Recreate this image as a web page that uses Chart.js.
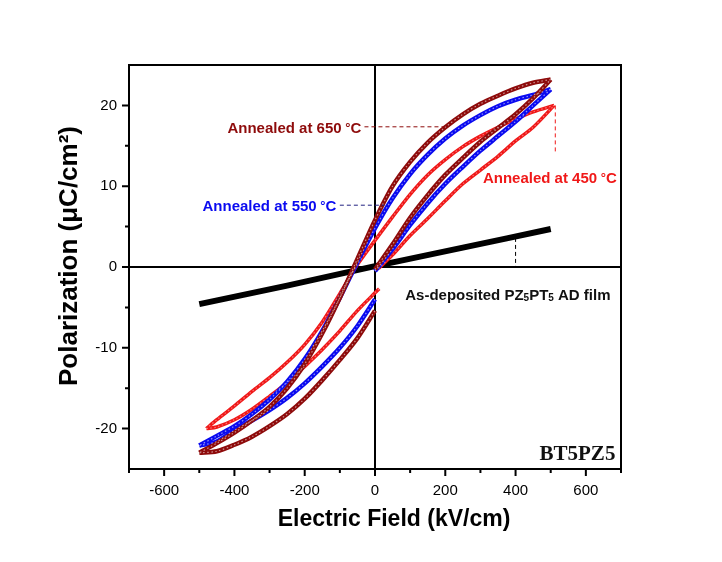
<!DOCTYPE html>
<html>
<head>
<meta charset="utf-8">
<script src="https://cdn.jsdelivr.net/npm/chart.js@4.4.1/dist/chart.umd.min.js"></script>
<style>
  html, body { margin: 0; padding: 0; background: #fff; }
  canvas { display: block; }
</style>
</head>
<body>
<canvas id="myChart" width="722" height="562"></canvas>
<script>
// P-E loop values (E in kV/cm, P in uC/cm2)
const eRise = [0, 50, 100, 150, 200, 250, 300, 350, 400, 450, 500];
const eFall = [500, 450, 400, 350, 300, 250, 200, 150, 100, 50, 0, -50, -100, -150, -200, -250, -300, -350, -400, -450, -500];
const eBack = [-500, -450, -400, -350, -300, -250, -200, -150, -100, -50, 0];

// annealed at 650 C
const p650Rise = [-0.3, 2.8, 6.1, 8.9, 11.4, 13.5, 15.5, 17.2, 18.9, 20.9, 23.2];
const p650Fall = [23.2, 22.8, 22.1, 21.2, 20.2, 18.9, 17.3, 15.4, 13.0, 10.0, 5.8, 1.0, -3.8, -8.2, -12.0, -15.0, -17.3, -19.0, -20.5, -21.8, -23.0];
const p650Back = [-23.0, -22.8, -22.0, -21.0, -19.7, -18.2, -16.3, -14.0, -11.5, -8.8, -5.4];

// annealed at 550 C
const p550Rise = [-0.5, 2.2, 5.2, 7.9, 10.3, 12.4, 14.4, 16.2, 18.0, 20.0, 22.0];
const p550Fall = [22.0, 21.3, 20.7, 19.9, 18.8, 17.5, 15.9, 13.9, 11.5, 8.5, 4.8, 0.6, -3.8, -7.9, -11.4, -14.2, -16.4, -18.2, -19.7, -20.9, -22.1];
const p550Back = [-22.1, -21.6, -20.2, -19.0, -17.7, -16.2, -14.4, -12.3, -10.0, -7.3, -4.0];

// annealed at 450 C (loop sits a little to the right)
const e450Rise = [10, 50, 100, 150, 200, 250, 300, 350, 400, 450, 510];
const p450Rise = [-0.2, 1.5, 3.9, 6.0, 8.2, 10.3, 12.0, 13.7, 15.6, 17.3, 20.0];
const e450Fall = [510, 450, 400, 350, 300, 250, 200, 150, 100, 50, 0, -50, -100, -150, -200, -250, -300, -350, -400, -450, -480];
const p450Fall = [20.0, 19.2, 18.3, 17.3, 16.2, 14.9, 13.3, 11.4, 9.0, 6.2, 3.3, 0.3, -3.3, -6.8, -9.6, -11.8, -13.7, -15.4, -17.2, -18.9, -20.0];
const e450Back = [-480, -450, -400, -350, -300, -250, -200, -150, -100, -50, 0, 12];
const p450Back = [-20.0, -19.8, -18.9, -17.6, -16.0, -14.3, -12.3, -10.2, -7.9, -5.4, -3.2, -2.7];

// as-deposited film
const eAsDep = [-500, -250, 0, 250, 500];
const pAsDep = [-4.6, -2.3, 0.1, 2.4, 4.7];

const FONT = '"Liberation Sans", Arial, sans-serif';
const DARKRED = '#8e0b0b';
const BLUE = '#0a0af0';
const RED = '#f01818';

const toXY = (xs, ys) => xs.map((x, i) => ({x: x, y: ys[i]}));

const branch = (label, xs, ys, color, width) => ({
  label: label,
  data: toXY(xs, ys),
  borderColor: color,
  backgroundColor: color,
  borderWidth: width || 4.5,
  pointRadius: 0,
  showLine: true,
  tension: 0.3,
  fill: false
});

// light dotted line over a branch, to look like the open circle markers
const speckle = (xs, ys, alpha) => ({
  label: 'speckle',
  data: toXY(xs, ys),
  borderColor: `rgba(255,255,255,${alpha || 0.55})`,
  borderWidth: 1.2,
  borderDash: [1.5, 2.5],
  pointRadius: 0,
  showLine: true,
  tension: 0.3,
  fill: false
});

// draws a line of text made of parts [text, size, dy]
function richText(ctx, parts, x, y, align, color) {
  let w = 0;
  parts.forEach(p => {
    ctx.font = `bold ${p[1]}px ${FONT}`;
    w += ctx.measureText(p[0]).width;
  });
  let cx = align === 'right' ? x - w : x;
  ctx.fillStyle = color;
  ctx.textAlign = 'left';
  ctx.textBaseline = 'alphabetic';
  parts.forEach(p => {
    ctx.font = `bold ${p[1]}px ${FONT}`;
    ctx.fillText(p[0], cx, y + (p[2] || 0));
    cx += ctx.measureText(p[0]).width;
  });
}

function dashed(ctx, x1, y1, x2, y2, color) {
  ctx.save();
  ctx.strokeStyle = color;
  ctx.lineWidth = 1;
  ctx.setLineDash([4, 3]);
  ctx.beginPath();
  ctx.moveTo(x1, y1);
  ctx.lineTo(x2, y2);
  ctx.stroke();
  ctx.restore();
}

const frame = {
  id: 'frame',
  beforeDatasetsDraw(chart) {
    const ctx = chart.ctx, a = chart.chartArea;
    const x0 = chart.scales.x.getPixelForValue(0);
    const y0 = chart.scales.y.getPixelForValue(0);
    ctx.save();
    ctx.strokeStyle = '#000';
    ctx.lineWidth = 2;
    ctx.beginPath();
    ctx.moveTo(x0, a.top); ctx.lineTo(x0, a.bottom);
    ctx.moveTo(a.left, y0); ctx.lineTo(a.right, y0);
    ctx.stroke();
    ctx.restore();
  },
  afterDraw(chart) {
    const ctx = chart.ctx, a = chart.chartArea;
    const sx = chart.scales.x, sy = chart.scales.y;
    const X = v => sx.getPixelForValue(v), Y = v => sy.getPixelForValue(v);
    ctx.save();
    // box
    ctx.strokeStyle = '#000';
    ctx.lineWidth = 2;
    ctx.strokeRect(a.left, a.top, a.right - a.left, a.bottom - a.top);
    // tick marks (major + minor)
    ctx.beginPath();
    sx.ticks.forEach(t => {
      const px = X(t.value), len = t.value % 200 === 0 ? 7 : 4;
      ctx.moveTo(px, a.bottom); ctx.lineTo(px, a.bottom + len);
    });
    sy.ticks.forEach(t => {
      if (t.value <= sy.min || t.value >= sy.max) return;
      const py = Y(t.value), len = t.value % 10 === 0 ? 7 : 4;
      ctx.moveTo(a.left, py); ctx.lineTo(a.left - len, py);
    });
    ctx.stroke();

    // axis titles
    ctx.fillStyle = '#000';
    ctx.textAlign = 'center';
    ctx.textBaseline = 'middle';
    ctx.font = `bold 23px ${FONT}`;
    ctx.fillText('Electric Field (kV/cm)', 394, 520);
    ctx.save();
    ctx.translate(70, 256);
    ctx.rotate(-Math.PI / 2);
    ctx.font = `bold 26px ${FONT}`;
    ctx.fillText('Polarization (\u03bcC/cm\u00b2)', 0, 0);
    ctx.restore();

    // annotations
    richText(ctx, [['Annealed at 650', 15], [' \u00b0', 13, -1], ['C', 15]], X(-39), Y(16.6), 'right', DARKRED);
    dashed(ctx, X(-30), Y(17.35), X(203), Y(17.35), DARKRED);

    richText(ctx, [['Annealed at 550', 15], [' \u00b0', 13, -1], ['C', 15]], X(-110), Y(6.9), 'right', BLUE);
    dashed(ctx, X(-100), Y(7.65), X(27), Y(7.65), '#202080');

    richText(ctx, [['Annealed at 450', 15], [' \u00b0', 13, -1], ['C', 15]], X(307), Y(10.4), 'left', RED);
    dashed(ctx, X(513), Y(20), X(513), Y(14.1), RED);

    richText(ctx, [['As-deposited PZ', 15], ['5', 10, 1], ['PT', 15], ['5', 10, 1], [' AD film', 15]], X(86), Y(-4.1), 'left', '#111');
    dashed(ctx, X(400), Y(3.6), X(400), Y(0), '#000');

    ctx.fillStyle = '#111';
    ctx.textAlign = 'right';
    ctx.textBaseline = 'alphabetic';
    ctx.font = 'bold 21px "Liberation Serif", "Times New Roman", serif';
    ctx.fillText('BT5PZ5', X(684), Y(-23.9));
    ctx.restore();
  }
};

const config = {
  type: 'scatter',
  data: {
    datasets: [
      speckle(eRise, p650Rise), speckle(eFall, p650Fall), speckle(eBack, p650Back),
      speckle(eRise, p550Rise), speckle(eFall, p550Fall), speckle(eBack, p550Back),
      speckle(e450Rise, p450Rise, 0.4), speckle(e450Fall, p450Fall, 0.4), speckle(e450Back, p450Back, 0.4),
      branch('650 rise', eRise, p650Rise, DARKRED),
      branch('650 fall', eFall, p650Fall, DARKRED),
      branch('650 back', eBack, p650Back, DARKRED),
      branch('550 rise', eRise, p550Rise, BLUE),
      branch('550 fall', eFall, p550Fall, BLUE),
      branch('550 back', eBack, p550Back, BLUE),
      branch('450 rise', e450Rise, p450Rise, RED, 3.5),
      branch('450 fall', e450Fall, p450Fall, RED, 3.5),
      branch('450 back', e450Back, p450Back, RED, 3.5),
      branch('as-deposited', eAsDep, pAsDep, '#000', 6)
    ]
  },
  options: {
    responsive: false,
    animation: false,
    events: [],
    layout: { padding: { top: 65, right: 101, left: 0, bottom: 0 } },
    plugins: { legend: { display: false }, tooltip: { enabled: false } },
    scales: {
      x: {
        type: 'linear',
        min: -700, max: 700,
        grid: { display: false },
        border: { display: false },
        afterFit: s => { s.height = 93; },
        ticks: {
          stepSize: 100,
          autoSkip: false,
          maxRotation: 0,
          padding: 5,
          color: '#000',
          font: { family: FONT, size: 15 },
          callback: v => (v % 200 === 0 && Math.abs(v) <= 600) ? String(v) : ''
        }
      },
      y: {
        type: 'linear',
        min: -25, max: 25,
        grid: { display: false },
        border: { display: false },
        afterFit: s => { s.width = 129; },
        ticks: {
          stepSize: 5,
          autoSkip: false,
          padding: 4,
          color: '#000',
          font: { family: FONT, size: 15 },
          callback: v => (v % 10 === 0 && Math.abs(v) <= 20) ? String(v) : ''
        }
      }
    }
  },
  plugins: [frame]
};

const myChart = new Chart(document.getElementById('myChart'), config);
</script>
</body>
</html>
